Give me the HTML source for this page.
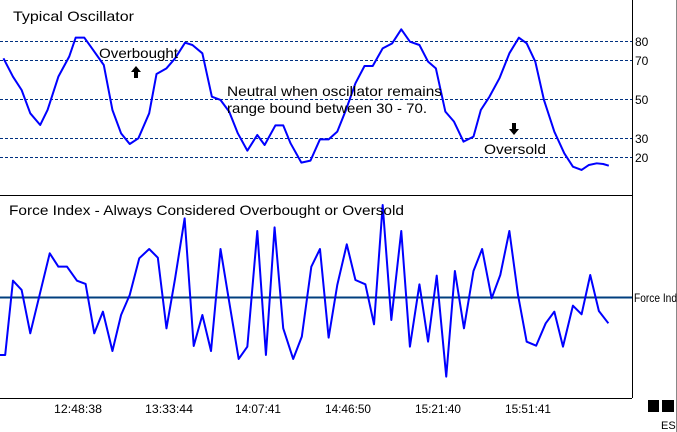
<!DOCTYPE html>
<html><head><meta charset="utf-8"><style>
html,body{margin:0;padding:0;background:#fff;}
svg{display:block;font-family:"Liberation Sans",Arial,sans-serif;}
</style></head><body>
<svg width="677" height="432" viewBox="0 0 677 432" xmlns="http://www.w3.org/2000/svg">
<rect x="0" y="0" width="677" height="432" fill="#fff"/>
<line x1="632.5" y1="0" x2="632.5" y2="398" stroke="#000" stroke-width="1"/>
<line x1="0" y1="195.5" x2="632" y2="195.5" stroke="#000" stroke-width="1"/>
<line x1="0" y1="398.5" x2="632" y2="398.5" stroke="#000" stroke-width="1"/>
<line x1="676.5" y1="0" x2="676.5" y2="432" stroke="#888" stroke-width="1"/>
<g stroke="#00307f" stroke-width="1" stroke-dasharray="3,2">
<line x1="0" y1="41.5" x2="632" y2="41.5"/>
<line x1="0" y1="60.5" x2="632" y2="60.5"/>
<line x1="0" y1="99.5" x2="632" y2="99.5"/>
<line x1="0" y1="138.5" x2="632" y2="138.5"/>
<line x1="0" y1="157.5" x2="632" y2="157.5"/>
</g>
<g font-size="12" fill="#000">
<text x="635" y="46">80</text>
<text x="635" y="65">70</text>
<text x="635" y="104">50</text>
<text x="635" y="143">30</text>
<text x="635" y="162">20</text>
<text x="634" y="302" textLength="43" lengthAdjust="spacingAndGlyphs">Force Ind</text>
</g>
<g transform="scale(0.4324,0.3333)">
<polyline fill="none" stroke="#0000ff" stroke-width="2" vector-effect="non-scaling-stroke" stroke-linejoin="round" points="8,175 30,230 50,270 70,340 93,375 110,330 135,230 160,170 175,113 195,113 210,140 240,195 260,330 280,400 300,432 320,415 345,340 362,222 385,205 405,175 428,128 445,135 468,160 490,290 510,300 530,335 550,400 572,452 595,405 612,435 637,376 655,376 672,430 697,488 718,482 740,418 760,418 780,395 800,330 822,250 843,198 862,198 885,145 907,130 928,88 948,125 970,135 990,185 1008,205 1030,335 1050,365 1072,425 1095,410 1112,330 1132,290 1155,235 1178,160 1200,113 1218,130 1238,185 1258,300 1282,395 1305,460 1325,500 1345,510 1362,495 1380,490 1395,492 1408,497"/>
</g>
<line x1="0" y1="297.5" x2="632" y2="297.5" stroke="#003f7f" stroke-width="2"/>
<g transform="translate(0,195) scale(0.4324,0.3333)">
<polyline fill="none" stroke="#0000ff" stroke-width="2" vector-effect="non-scaling-stroke" stroke-linejoin="round" points="0,480 12,480 30,257 50,285 70,415 115,175 135,215 155,215 178,257 198,267 218,415 238,350 260,468 280,360 300,300 322,190 345,162 365,188 385,400 405,250 427,70 448,453 468,360 488,468 510,162 530,320 552,492 572,455 595,108 615,480 635,97 655,400 678,492 698,425 720,215 740,162 760,428 780,270 802,148 822,255 845,268 865,388 885,30 905,375 928,108 948,455 970,268 990,440 1010,242 1032,545 1052,228 1073,400 1095,228 1115,162 1137,310 1157,240 1178,108 1198,300 1218,440 1240,452 1262,385 1282,350 1302,455 1325,332 1345,358 1365,240 1385,348 1407,385"/>
</g>
<g font-size="14" fill="#000" lengthAdjust="spacingAndGlyphs">
<text x="13" y="21" textLength="121" lengthAdjust="spacingAndGlyphs">Typical Oscillator</text>
<text x="99" y="58" textLength="79" lengthAdjust="spacingAndGlyphs">Overbought</text>
<text x="227" y="96" textLength="215" lengthAdjust="spacingAndGlyphs">Neutral when oscillator remains</text>
<text x="227" y="113" textLength="200" lengthAdjust="spacingAndGlyphs">range bound between 30 - 70.</text>
<text x="484" y="154" textLength="62" lengthAdjust="spacingAndGlyphs">Oversold</text>
<text x="9" y="215" textLength="395" lengthAdjust="spacingAndGlyphs">Force Index - Always Considered Overbought or Oversold</text>
</g>
<polygon points="136,66 131,72 134,72 134,78 138,78 138,72 141,72" fill="#000"/>
<polygon points="514,135 509,129 512,129 512,123 516,123 516,129 519,129" fill="#000"/>
<g font-size="12" fill="#000" text-anchor="middle">
<text x="78" y="413" textLength="48" lengthAdjust="spacingAndGlyphs">12:48:38</text>
<text x="169" y="413" textLength="48" lengthAdjust="spacingAndGlyphs">13:33:44</text>
<text x="258" y="413" textLength="46" lengthAdjust="spacingAndGlyphs">14:07:41</text>
<text x="348" y="413" textLength="46" lengthAdjust="spacingAndGlyphs">14:46:50</text>
<text x="438" y="413" textLength="46" lengthAdjust="spacingAndGlyphs">15:21:40</text>
<text x="528" y="413" textLength="46" lengthAdjust="spacingAndGlyphs">15:51:41</text>
</g>
<rect x="648" y="400" width="11" height="12" fill="#000"/>
<rect x="662" y="400" width="12" height="12" fill="#000"/>
<text x="661" y="429" font-size="11" fill="#000">ES</text>
</svg>
</body></html>
